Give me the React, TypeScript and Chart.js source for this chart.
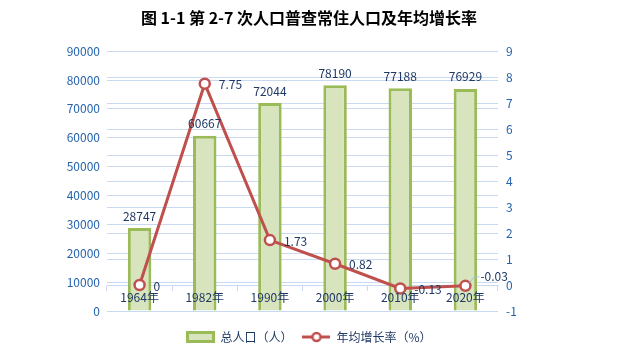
import React, { useEffect, useRef } from "react";
import { Chart, registerables } from "chart.js";

Chart.register(...registerables);

const categories = ["1964年", "1982年", "1990年", "2000年", "2010年", "2020年"];
const population = [28747, 60667, 72044, 78190, 77188, 76929];
const growthRate = [0, 7.75, 1.73, 0.82, -0.13, -0.03];
const growthLabels = ["0", "7.75", "1.73", "0.82", "-0.13", "-0.03"];
const titleText = "图 1-1 第 2-7 次人口普查常住人口及年均增长率";
const barName = "总人口（人）";
const lineName = "年均增长率（%）";

const FONT = "'Noto Sans CJK SC', 'Noto Sans', sans-serif";
const LABEL_COLOR = "#1F3864";
const TICK_COLOR = "#2463B0";
const GRID_COLOR = "#C9DAF0";
const BAR_FILL = "#D7E4BD";
const BAR_BORDER = "#9BBB59";
const LINE_COLOR = "#C0504D";

function makeBarSymbol() {
  const c = document.createElement("canvas");
  c.width = 29;
  c.height = 12;
  const g = c.getContext("2d")!;
  g.fillStyle = BAR_FILL;
  g.fillRect(1.5, 1.5, 26, 9);
  g.strokeStyle = BAR_BORDER;
  g.lineWidth = 3;
  g.strokeRect(1.5, 1.5, 26, 9);
  return c;
}

function makeLineSymbol() {
  const c = document.createElement("canvas");
  c.width = 28;
  c.height = 12;
  const g = c.getContext("2d")!;
  g.strokeStyle = LINE_COLOR;
  g.lineWidth = 3;
  g.beginPath();
  g.moveTo(0, 6);
  g.lineTo(28, 6);
  g.stroke();
  g.beginPath();
  g.arc(14, 6, 4, 0, Math.PI * 2);
  g.fillStyle = "#FFFFFF";
  g.fill();
  g.lineWidth = 2.5;
  g.stroke();
  return c;
}

const labelPlugin = {
  id: "valueLabels",
  afterDatasetsDraw(chart: any) {
    const ctx = chart.ctx;
    ctx.save();
    ctx.font = `12px ${FONT}`;
    ctx.fillStyle = LABEL_COLOR;
    const barIdx = chart.data.datasets.findIndex((d: any) => d.type === "bar");
    const lineIdx = chart.data.datasets.findIndex((d: any) => d.type === "line");
    const barMeta = chart.getDatasetMeta(barIdx);
    barMeta.data.forEach((el: any, i: number) => {
      ctx.textAlign = "center";
      ctx.textBaseline = "bottom";
      ctx.fillText(String(population[i]), el.x, el.y - 6);
    });
    const lineMeta = chart.getDatasetMeta(lineIdx);
    lineMeta.data.forEach((el: any, i: number) => {
      ctx.textAlign = "left";
      ctx.textBaseline = "middle";
      if (i === growthRate.length - 1) {
        ctx.strokeStyle = "#A6BFDD";
        ctx.lineWidth = 1;
        ctx.beginPath();
        ctx.moveTo(el.x + 4, el.y - 3);
        ctx.lineTo(el.x + 9, el.y - 9);
        ctx.lineTo(el.x + 14, el.y - 9);
        ctx.stroke();
        ctx.fillText(growthLabels[i], el.x + 15, el.y - 9);
      } else {
        ctx.fillText(growthLabels[i], el.x + 14, el.y + 1);
      }
    });
    ctx.restore();
  },
};

export default function App() {
  const ref = useRef<HTMLCanvasElement | null>(null);
  useEffect(() => {
    document.body.style.margin = "0";
    const barSymbol = makeBarSymbol();
    const lineSymbol = makeLineSymbol();
    const chart = new Chart(ref.current!, {
      data: {
        labels: categories,
        datasets: [
          {
            type: "bar",
            label: barName,
            data: population,
            yAxisID: "y",
            backgroundColor: BAR_FILL,
            borderColor: BAR_BORDER,
            borderWidth: 3,
            categoryPercentage: 1,
            barPercentage: 0.36,
            order: 1,
          } as any,
          {
            type: "line",
            label: lineName,
            data: growthRate,
            yAxisID: "y1",
            borderColor: LINE_COLOR,
            borderWidth: 3,
            pointRadius: 5,
            pointBorderWidth: 2.5,
            pointBackgroundColor: "#FFFFFF",
            pointBorderColor: LINE_COLOR,
            tension: 0,
            order: 0,
          } as any,
        ],
      },
      options: {
        animation: false,
        responsive: false,
        layout: { padding: { left: 0, right: 0, top: 0, bottom: -2 } },
        plugins: {
          title: {
            display: true,
            text: titleText,
            color: "#000000",
            font: { family: FONT, size: 16, weight: "bold" },
            padding: { top: 8, bottom: 24 },
          },
          legend: {
            position: "bottom",
            title: {
              display: true,
              text: " ",
              font: { size: 6, lineHeight: 1 },
              padding: 2,
            },
            labels: {
              color: LABEL_COLOR,
              font: { family: FONT, size: 12 },
              usePointStyle: true,
              pointStyleWidth: 28,
              boxHeight: 12,
              padding: 10,
              generateLabels() {
                return [
                  {
                    text: barName,
                    pointStyle: barSymbol,
                    datasetIndex: 0,
                    fontColor: LABEL_COLOR,
                    lineWidth: 0,
                  },
                  {
                    text: lineName,
                    pointStyle: lineSymbol,
                    datasetIndex: 1,
                    fontColor: LABEL_COLOR,
                    lineWidth: 0,
                  },
                ] as any;
              },
            },
          },
          tooltip: { enabled: false },
        },
        scales: {
          x: {
            position: { y1: 0 } as any,
            offset: true,
            grid: {
              display: true,
              drawOnChartArea: false,
              drawTicks: true,
              tickLength: 5,
              color: GRID_COLOR,
              offset: true,
            },
            border: { display: true, color: GRID_COLOR, width: 1 },
            ticks: {
              color: LABEL_COLOR,
              font: { family: FONT, size: 12 },
              padding: 0,
              maxRotation: 0,
              z: 1,
            },
          },
          y: {
            position: "left",
            min: 0,
            max: 90000,
            ticks: {
              stepSize: 10000,
              color: TICK_COLOR,
              font: { family: FONT, size: 12 },
              padding: 7,
              callback: (v: any) => String(v),
            },
            grid: { color: GRID_COLOR, drawTicks: false },
            border: { display: false },
            afterFit(scale: any) {
              scale.width = 107;
            },
          },
          y1: {
            position: "right",
            min: -1,
            max: 9,
            ticks: {
              stepSize: 1,
              color: TICK_COLOR,
              font: { family: FONT, size: 12 },
              padding: 8,
              callback: (v: any) => String(v),
            },
            grid: { color: GRID_COLOR, drawTicks: false },
            border: { display: false },
            afterFit(scale: any) {
              scale.width = 120;
            },
          },
        },
      },
      plugins: [labelPlugin],
    });
    return () => chart.destroy();
  }, []);
  return (
    <div style={{ position: "absolute", left: 0, top: 0, width: 618, height: 351 }}>
      <canvas ref={ref} width={618} height={351} />
    </div>
  );
}
